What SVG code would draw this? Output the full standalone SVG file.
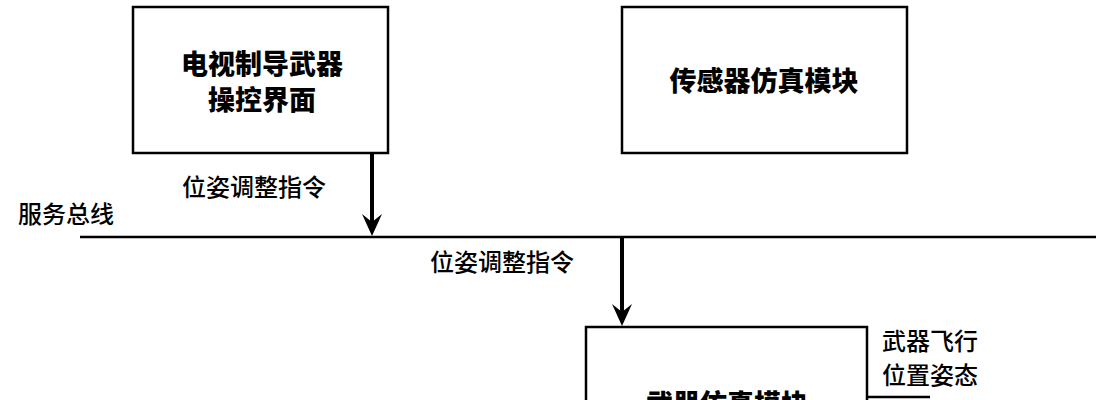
<svg xmlns="http://www.w3.org/2000/svg" width="1100" height="400" viewBox="0 0 1100 400">
<style>
.box{fill:#fff;stroke:#000;stroke-width:2.5}
.b{font-family:"Noto Sans CJK SC",sans-serif;font-weight:900;font-size:27px;text-anchor:middle}
.t{font-family:"Noto Sans CJK SC",sans-serif;font-weight:500;font-size:24px}
.ln{stroke:#000;stroke-width:2.5;fill:none}
.ar{stroke:#000;stroke-width:4;fill:none}
.hd{fill:#000}
</style>
<rect width="1100" height="400" fill="#fff"/>
<g id="n1"><rect class="box" x="133" y="7" width="255" height="146"/><text class="b" x="262" y="74">电视制导武器</text><text class="b" x="262" y="110">操控界面</text></g>
<g id="n2"><rect class="box" x="622" y="7" width="285" height="146"/><text class="b" x="764" y="91">传感器仿真模块</text></g>
<g id="n3"><rect class="box" x="586" y="327" width="281" height="100"/><text class="b" x="727" y="414">武器仿真模块</text></g>
<g id="bus"><line class="ln" x1="80" y1="237" x2="1096" y2="237"/><text class="t" x="18" y="223">服务总线</text></g>
<g id="connectors">
<line class="ar" x1="372" y1="153" x2="372" y2="225"/>
<path class="hd" d="M362,214 L372,236 L382,214 L372,222 Z"/>
<line class="ar" x1="622" y1="237" x2="622" y2="315"/>
<path class="hd" d="M612,304 L622,326 L632,304 L622,312 Z"/>
<line class="ln" x1="867" y1="397" x2="930" y2="397"/>
</g>
<text class="t" x="182" y="196">位姿调整指令</text>
<text class="t" x="430" y="271">位姿调整指令</text>
<text class="t" x="882" y="350">武器飞行</text>
<text class="t" x="882" y="384">位置姿态</text>
</svg>
